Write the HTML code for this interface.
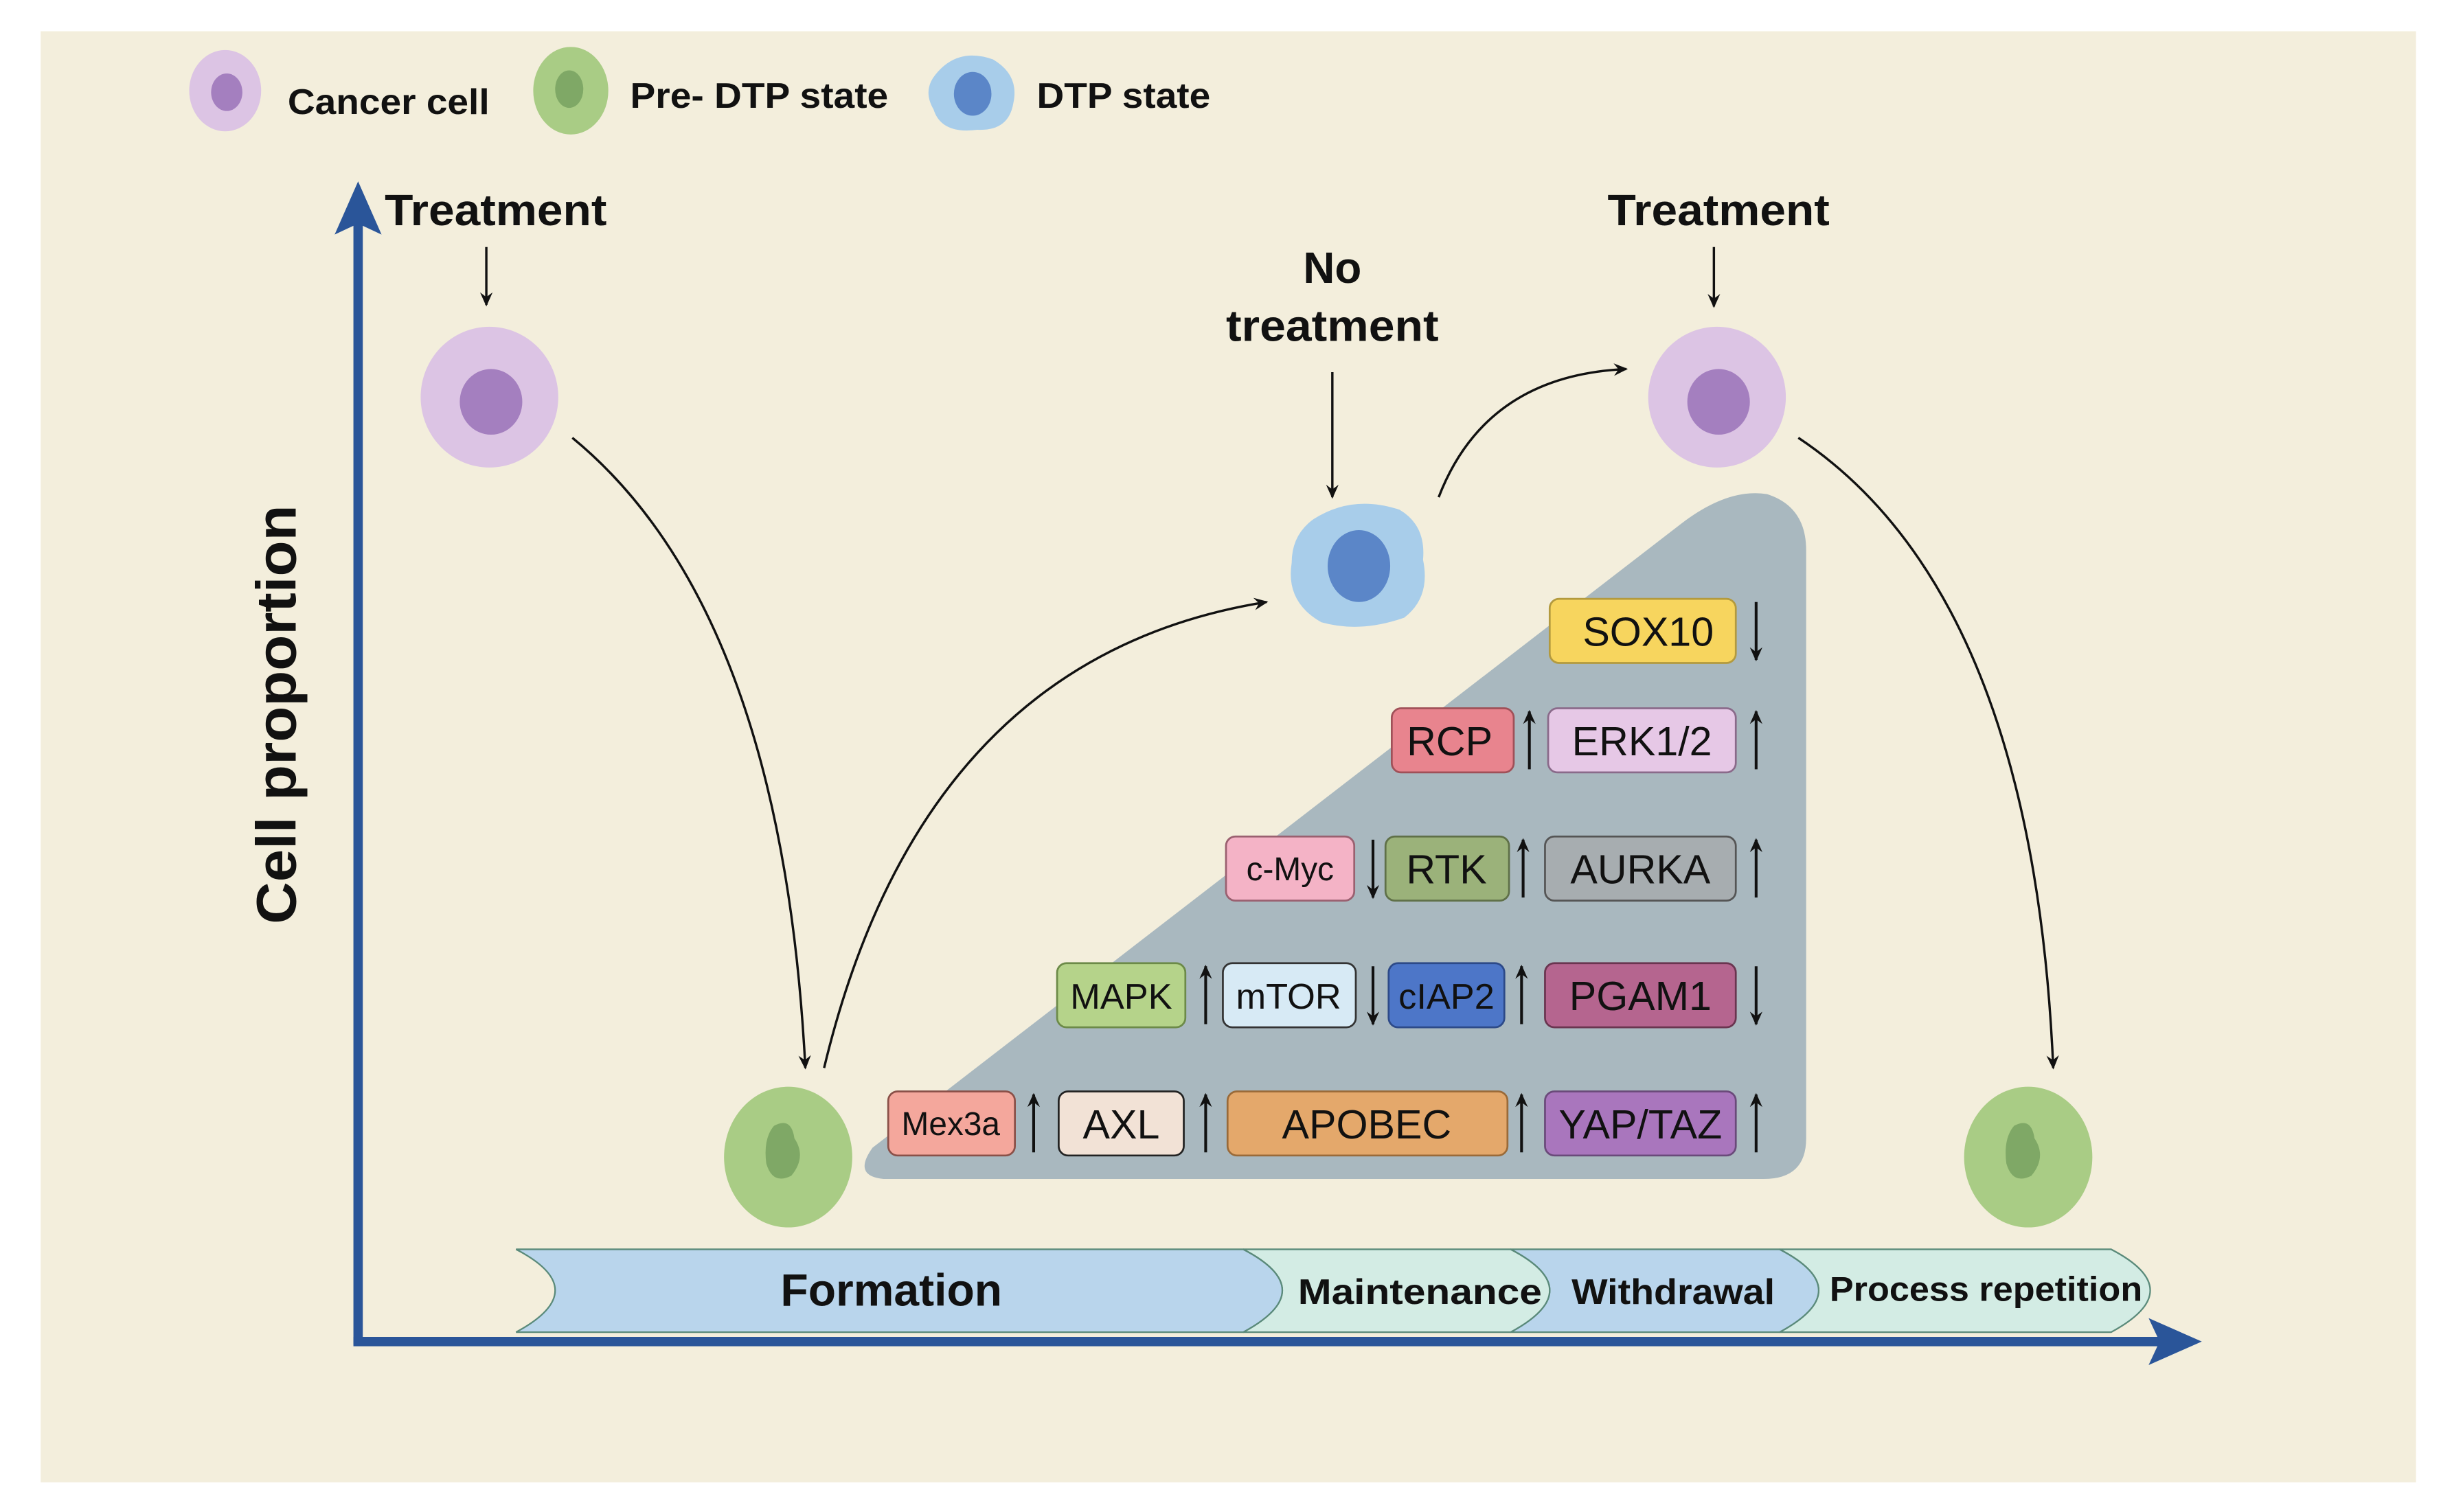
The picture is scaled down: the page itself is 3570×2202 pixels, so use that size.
<!DOCTYPE html>
<html><head><meta charset="utf-8"><style>
html,body{margin:0;padding:0;background:#fff;}
svg{display:block;}
text{font-family:"Liberation Sans",Arial,sans-serif;}
</style></head><body>
<svg width="3570" height="2202" viewBox="0 0 1568 967" preserveAspectRatio="none" xmlns="http://www.w3.org/2000/svg">
<defs>
<marker id="ah" markerWidth="10" markerHeight="10" refX="8" refY="5" orient="auto" markerUnits="userSpaceOnUse">
<path d="M0,1 L9,5 L0,9 L3,5 Z" fill="#111"/></marker>
</defs>
<rect x="0" y="0" width="1568" height="967" fill="#fff"/>
<rect x="26" y="20" width="1519" height="928" fill="#f3eedc"/>

<!-- legend -->
<ellipse cx="144" cy="58" rx="23" ry="26" fill="#dcc4e4"/>
<ellipse cx="145" cy="59" rx="10" ry="12" fill="#a47fbf"/>
<text x="184" y="73" font-size="23" font-weight="bold" fill="#111" textLength="129" lengthAdjust="spacingAndGlyphs">Cancer cell</text>
<ellipse cx="365" cy="58" rx="24" ry="28" fill="#a9cc85"/>
<ellipse cx="364" cy="57" rx="9" ry="12" fill="#7fa866"/>
<text x="403" y="69" font-size="23" font-weight="bold" fill="#111" textLength="165" lengthAdjust="spacingAndGlyphs">Pre- DTP state</text>
<path d="M598,48 Q612,30 635,38 Q652,48 648,66 Q645,84 625,83 Q602,86 597,70 Q590,58 598,48Z" fill="#a8cdea"/>
<ellipse cx="622" cy="60" rx="12" ry="14" fill="#5b86c8"/>
<text x="663" y="69" font-size="23" font-weight="bold" fill="#111" textLength="111" lengthAdjust="spacingAndGlyphs">DTP state</text>

<!-- axes -->
<line x1="229" y1="860" x2="229" y2="140" stroke="#2a5599" stroke-width="6"/>
<path d="M229,116 L244,150 L229,143 L214,150Z" fill="#2a5599"/>
<line x1="226" y1="858" x2="1385" y2="858" stroke="#2a5599" stroke-width="6"/>
<path d="M1408,858 L1374,843 L1381,858 L1374,873Z" fill="#2a5599"/>
<text transform="translate(189,457) rotate(-90)" text-anchor="middle" font-size="36" font-weight="bold" fill="#111" textLength="268" lengthAdjust="spacingAndGlyphs">Cell proportion</text>

<!-- gray triangle -->
<path d="M565,754 Q545,752 558,734 L1075,335 Q1105,312 1130,316 Q1155,324 1155,352 L1155,728 Q1155,754 1128,754 Z" fill="#a9b8bf"/>

<!-- labels & arrows -->
<text x="317" y="144" text-anchor="middle" font-size="28" font-weight="bold" fill="#111" textLength="142" lengthAdjust="spacingAndGlyphs">Treatment</text>
<line x1="311" y1="158" x2="311" y2="195" stroke="#111" stroke-width="1.5" marker-end="url(#ah)"/>
<text x="1099" y="144" text-anchor="middle" font-size="28" font-weight="bold" fill="#111" textLength="142" lengthAdjust="spacingAndGlyphs">Treatment</text>
<line x1="1096" y1="158" x2="1096" y2="196" stroke="#111" stroke-width="1.5" marker-end="url(#ah)"/>
<text x="852" y="181" text-anchor="middle" font-size="28" font-weight="bold" fill="#111">No</text>
<text x="852" y="218" text-anchor="middle" font-size="28" font-weight="bold" fill="#111" textLength="136" lengthAdjust="spacingAndGlyphs">treatment</text>
<line x1="852" y1="238" x2="852" y2="318" stroke="#111" stroke-width="1.5" marker-end="url(#ah)"/>

<path d="M366,280 Q500,390 515,683" fill="none" stroke="#111" stroke-width="1.5" marker-end="url(#ah)"/>
<path d="M527,683 Q590,420 810,385" fill="none" stroke="#111" stroke-width="1.5" marker-end="url(#ah)"/>
<path d="M920,318 Q950,240 1040,236" fill="none" stroke="#111" stroke-width="1.5" marker-end="url(#ah)"/>
<path d="M1150,280 Q1300,380 1313,683" fill="none" stroke="#111" stroke-width="1.5" marker-end="url(#ah)"/>

<!-- cells -->
<ellipse cx="313" cy="254" rx="44" ry="45" fill="#dcc4e4"/>
<ellipse cx="314" cy="257" rx="20" ry="21" fill="#a47fbf"/>
<ellipse cx="1098" cy="254" rx="44" ry="45" fill="#dcc4e4"/>
<ellipse cx="1099" cy="257" rx="20" ry="21" fill="#a47fbf"/>
<ellipse cx="504" cy="740" rx="41" ry="45" fill="#a9cc85"/>
<path d="M495,720 Q506,714 508,728 Q516,740 506,752 Q494,758 490,744 Q488,728 495,720Z" fill="#7fa866"/>
<ellipse cx="1297" cy="740" rx="41" ry="45" fill="#a9cc85"/>
<path d="M1288,720 Q1299,714 1301,728 Q1309,740 1299,752 Q1287,758 1283,744 Q1281,728 1288,720Z" fill="#7fa866"/>
<path d="M840,332 Q865,316 895,326 Q912,336 910,358 Q915,382 898,395 Q870,405 845,398 Q822,385 826,360 Q826,342 840,332Z" fill="#a8cdea"/>
<ellipse cx="869" cy="362" rx="20" ry="23" fill="#5b86c8"/>

<!-- boxes -->
<g font-size="26" text-anchor="middle" fill="#111" stroke-width="1.2">
<rect x="991" y="383" width="119" height="41" rx="6" fill="#f7d55e" stroke="#b39a3e"/><text x="1054" y="413">SOX10</text>
<rect x="890" y="453" width="78" height="41" rx="6" fill="#e8848e" stroke="#a05058"/><text x="927" y="483">RCP</text>
<rect x="990" y="453" width="120" height="41" rx="6" fill="#e6c8e6" stroke="#8a6a8a"/><text x="1050" y="483">ERK1/2</text>
<rect x="784" y="535" width="82" height="41" rx="6" fill="#f4b3c6" stroke="#9a6070"/><text x="825" y="563" font-size="21">c-Myc</text>
<rect x="886" y="535" width="79" height="41" rx="6" fill="#9bb27a" stroke="#5f7048"/><text x="925" y="565">RTK</text>
<rect x="988" y="535" width="122" height="41" rx="6" fill="#a7adb0" stroke="#555"/><text x="1049" y="565">AURKA</text>
<rect x="676" y="616" width="82" height="41" rx="6" fill="#b5d38a" stroke="#6c8a48"/><text x="717" y="645" font-size="23">MAPK</text>
<rect x="782" y="616" width="85" height="41" rx="6" fill="#d7eaf5" stroke="#333"/><text x="824" y="645" font-size="23">mTOR</text>
<rect x="888" y="616" width="74" height="41" rx="6" fill="#4d76c8" stroke="#2d4a88"/><text x="925" y="645" font-size="23">cIAP2</text>
<rect x="988" y="616" width="122" height="41" rx="6" fill="#b5658f" stroke="#6a3550"/><text x="1049" y="646">PGAM1</text>
<rect x="568" y="698" width="81" height="41" rx="6" fill="#f4a79c" stroke="#8a5048"/><text x="608" y="726" font-size="21">Mex3a</text>
<rect x="677" y="698" width="80" height="41" rx="6" fill="#f2e2d6" stroke="#222"/><text x="717" y="728">AXL</text>
<rect x="785" y="698" width="179" height="41" rx="6" fill="#e4a86b" stroke="#9a6a38"/><text x="874" y="728">APOBEC</text>
<rect x="988" y="698" width="122" height="41" rx="6" fill="#a976bd" stroke="#6a4a7a"/><text x="1049" y="728">YAP/TAZ</text>
</g>
<g stroke="#111" stroke-width="1.8">
<line x1="1123" y1="385" x2="1123" y2="422" marker-end="url(#ah)"/>
<line x1="978" y1="492" x2="978" y2="455" marker-end="url(#ah)"/>
<line x1="1123" y1="492" x2="1123" y2="455" marker-end="url(#ah)"/>
<line x1="878" y1="537" x2="878" y2="574" marker-end="url(#ah)"/>
<line x1="974" y1="574" x2="974" y2="537" marker-end="url(#ah)"/>
<line x1="1123" y1="574" x2="1123" y2="537" marker-end="url(#ah)"/>
<line x1="771" y1="655" x2="771" y2="618" marker-end="url(#ah)"/>
<line x1="878" y1="618" x2="878" y2="655" marker-end="url(#ah)"/>
<line x1="973" y1="655" x2="973" y2="618" marker-end="url(#ah)"/>
<line x1="1123" y1="618" x2="1123" y2="655" marker-end="url(#ah)"/>
<line x1="661" y1="737" x2="661" y2="700" marker-end="url(#ah)"/>
<line x1="771" y1="737" x2="771" y2="700" marker-end="url(#ah)"/>
<line x1="973" y1="737" x2="973" y2="700" marker-end="url(#ah)"/>
<line x1="1123" y1="737" x2="1123" y2="700" marker-end="url(#ah)"/>
</g>

<!-- ribbon -->
<g stroke="#5a8a7a" stroke-width="1">
<path d="M1138,799 L1350,799 Q1400,825 1350,852 L1138,852 Q1188,825 1138,799Z" fill="#d3ece4"/>
<path d="M966,799 L1138,799 Q1188,825 1138,852 L966,852 Q1016,825 966,799Z" fill="#b9d5ec"/>
<path d="M795,799 L966,799 Q1016,825 966,852 L795,852 Q845,825 795,799Z" fill="#d3ece4"/>
<path d="M330,799 L795,799 Q845,825 795,852 L330,852 Q380,825 330,799Z" fill="#b9d5ec"/>
</g>
<g font-weight="bold" fill="#111" text-anchor="middle">
<text x="570" y="835" font-size="29">Formation</text>
<text x="908" y="834" font-size="23" textLength="156" lengthAdjust="spacingAndGlyphs">Maintenance</text>
<text x="1070" y="834" font-size="23" textLength="130" lengthAdjust="spacingAndGlyphs">Withdrawal</text>
<text x="1270" y="832" font-size="22" textLength="200" lengthAdjust="spacingAndGlyphs">Process repetition</text>
</g>
</svg>
</body></html>
